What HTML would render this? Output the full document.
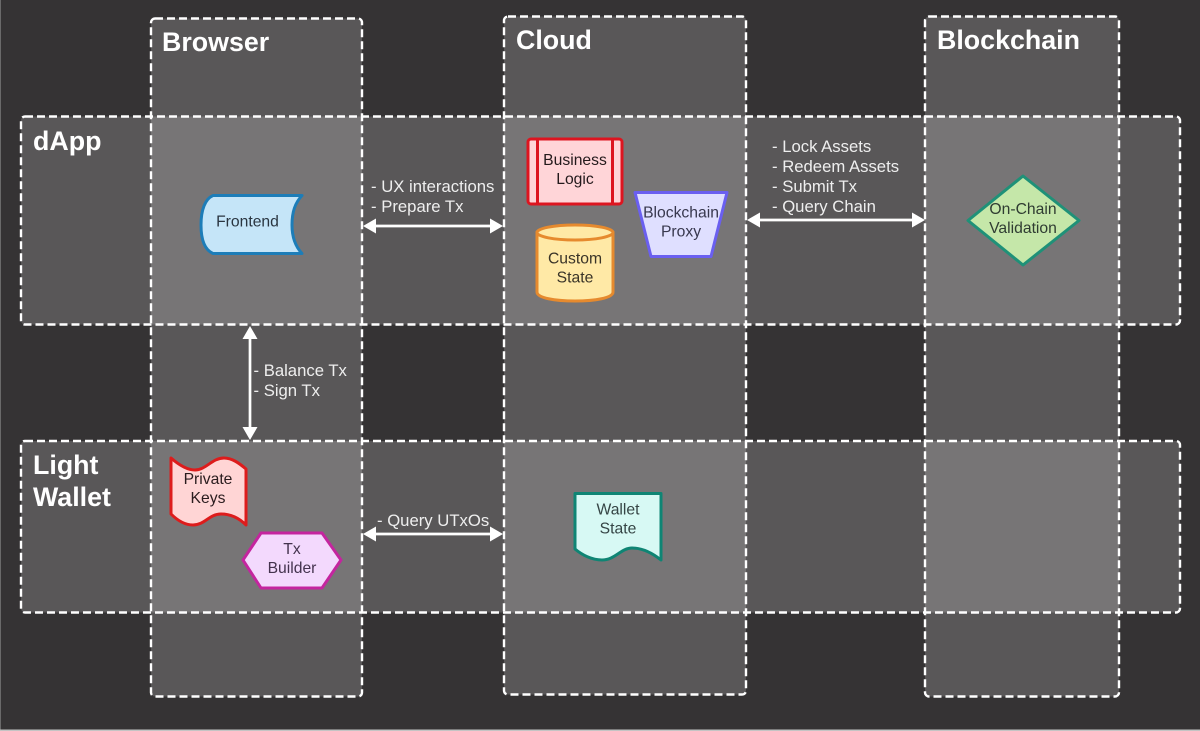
<!DOCTYPE html>
<html>
<head>
<meta charset="utf-8">
<style>
html,body{margin:0;padding:0;background:#353334;width:1200px;height:731px;overflow:hidden}
svg{display:block;font-family:"Liberation Sans",sans-serif}
.p{fill:rgba(255,255,255,.18);stroke:#fff;stroke-width:2.4;stroke-dasharray:8 4}
.h{fill:#fff;font-weight:bold;font-size:26.8px}
.l{fill:#eeeeee;font-size:16.7px}
.t{font-size:15.7px;text-anchor:middle}
.s{stroke-width:3;stroke-linejoin:round}
.a{stroke:#fff;stroke-width:2.7;fill:none}
.ah{fill:#fff}
</style>
</head>
<body>
<svg width="1200" height="731" viewBox="0 0 1200 731" xmlns="http://www.w3.org/2000/svg">
<rect x="0" y="0" width="1200" height="731" fill="#353334"/>
<rect x="0" y="0" width="1" height="731" fill="#6a6a6a"/>
<rect x="0" y="729.500" width="1200" height="1.500" fill="#c4c4c4"/>

<rect class="p" x="151" y="18.500" width="211" height="678" rx="4"/>
<rect class="p" x="504" y="16.500" width="242" height="678" rx="4"/>
<rect class="p" x="925" y="16.500" width="194" height="680" rx="4"/>
<rect class="p" x="21" y="116.500" width="1159" height="208" rx="4"/>
<rect class="p" x="21" y="441" width="1159" height="171.500" rx="4"/>

<text class="h" x="162" y="51">Browser</text>
<text class="h" x="516" y="49">Cloud</text>
<text class="h" x="937" y="49">Blockchain</text>
<text class="h" x="33" y="150">dApp</text>
<text class="h" x="33" y="474">Light</text>
<text class="h" x="33" y="506">Wallet</text>

<!-- Frontend -->
<path class="s" d="M302 195.500 H213 C205 199 201 210 201 225 C201 240 205 250 213 253.500 H302 C295 246 292 237 292 225 C292 212 295 203 302 195.500 Z" fill="#c5e5f8" stroke="#1d7db8"/>
<text class="t" x="247.500" y="226.500" fill="#2a3540">Frontend</text>

<!-- Business Logic -->
<rect class="s" x="528" y="139" width="94" height="65" rx="3" fill="#ffd5d8" stroke="#dd1520"/>
<path d="M537.500 139 V204 M612.500 139 V204" stroke="#dd1520" stroke-width="3" fill="none"/>
<text class="t" x="575" y="165" fill="#241a1c">Business</text>
<text class="t" x="575" y="184" fill="#241a1c">Logic</text>

<!-- Custom State -->
<path class="s" d="M537 232 V292 C537 298 555 301 575 301 C595 301 613 298 613 292 V232 Z" fill="#ffe9a6" stroke="#e68a2e"/>
<ellipse class="s" cx="575" cy="232.500" rx="38" ry="7.500" fill="#ffe9a6" stroke="#e68a2e"/>
<text class="t" x="575" y="263.500" fill="#3a3428">Custom</text>
<text class="t" x="575" y="282.500" fill="#3a3428">State</text>

<!-- Blockchain Proxy -->
<path class="s" d="M635 192.500 H727 L711 256.500 H651 Z" fill="#dfdfff" stroke="#6a5ff0"/>
<text class="t" x="681" y="217.500" fill="#38384e">Blockchain</text>
<text class="t" x="681" y="236.500" fill="#38384e">Proxy</text>

<!-- On-Chain -->
<path class="s" d="M1023 176 L1079 220.500 L1023 265 L968 220.500 Z" fill="#c5e7a9" stroke="#1f9178"/>
<text class="t" x="1023" y="214" fill="#2f3c32">On-Chain</text>
<text class="t" x="1023" y="233" fill="#2f3c32">Validation</text>

<!-- Private Keys -->
<path class="s" d="M171 458 C179 465 187 470 195 470 C206 470 212 458 224 458 C232 458 239 463 246 469 V525 C238 517 230 514 221 514 C209 514 205 525 193 525 C185 525 177 520 171 514 Z" fill="#ffd5d5" stroke="#dd1c1c"/>
<text class="t" x="208" y="484" fill="#2a1c1e">Private</text>
<text class="t" x="208" y="503" fill="#2a1c1e">Keys</text>

<!-- Tx Builder -->
<path class="s" d="M243 560 L261 533 H322 L341 560 L322 588 H261 Z" fill="#f3d9fd" stroke="#c4259f"/>
<text class="t" x="292" y="554" fill="#44334e">Tx</text>
<text class="t" x="292" y="573" fill="#44334e">Builder</text>

<!-- Wallet State -->
<path class="s" d="M575 493.500 H661 V560 C651 552 642 548 632 548 C621 548 615 560 602 560 C592 560 582 555 575 549 Z" fill="#d7f9f4" stroke="#0f8574"/>
<text class="t" x="618" y="514.500" fill="#354545">Wallet</text>
<text class="t" x="618" y="533.500" fill="#354545">State</text>

<!-- Connectors -->
<line class="a" x1="372" y1="226" x2="494" y2="226"/>
<path class="ah" d="M363 226 L376 218.500 V233.500 Z M503 226 L490 218.500 V233.500 Z"/>
<line class="a" x1="756" y1="220" x2="916" y2="220"/>
<path class="ah" d="M747 220 L760 212.500 V227.500 Z M925 220 L912 212.500 V227.500 Z"/>
<line class="a" x1="250" y1="335" x2="250" y2="431"/>
<path class="ah" d="M250 326 L242.500 339 H257.500 Z M250 440 L242.500 427 H257.500 Z"/>
<line class="a" x1="372" y1="534" x2="494" y2="534"/>
<path class="ah" d="M363 534 L376 526.500 V541.500 Z M503 534 L490 526.500 V541.500 Z"/>

<!-- Connector labels -->
<text class="l" x="371" y="192">- UX interactions</text>
<text class="l" x="371" y="212">- Prepare Tx</text>
<text class="l" x="772" y="152">- Lock Assets</text>
<text class="l" x="772" y="172">- Redeem Assets</text>
<text class="l" x="772" y="192">- Submit Tx</text>
<text class="l" x="772" y="212">- Query Chain</text>
<text class="l" x="253.500" y="376">- Balance Tx</text>
<text class="l" x="253.500" y="396">- Sign Tx</text>
<text class="l" x="377" y="526">- Query UTxOs</text>
</svg>
</body>
</html>
